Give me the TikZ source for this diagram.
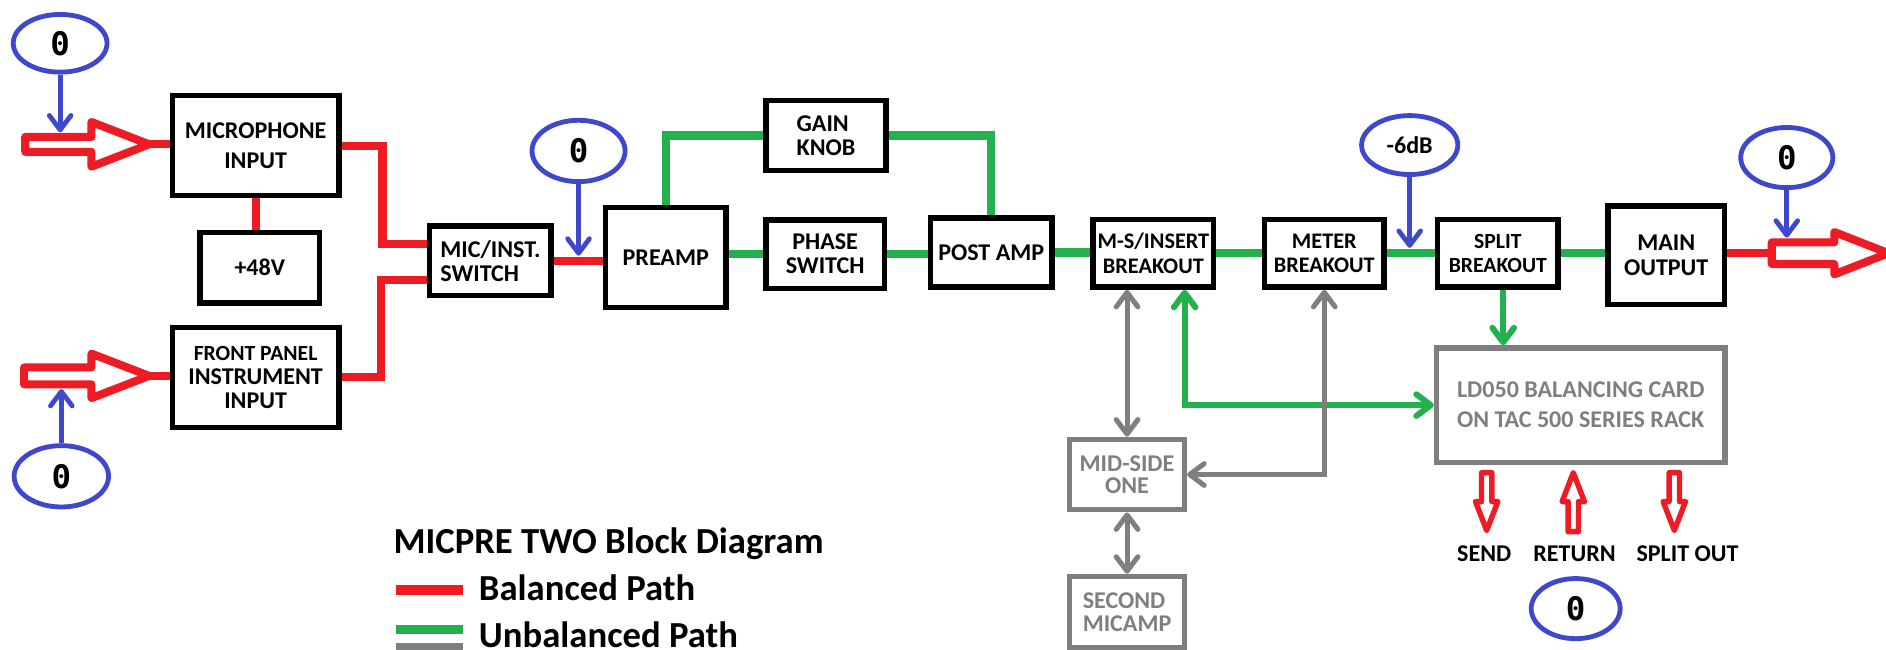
\documentclass[tikz,border=0pt]{standalone}
\usepackage{fontspec}
\setmainfont{Carlito}
\newfontfamily\zerofont{DejaVu Sans Mono}
\usetikzlibrary{arrows.meta,shapes.geometric}

\definecolor{pathred}{HTML}{ED1C24}
\definecolor{pathgreen}{HTML}{22B14C}
\definecolor{levelblue}{HTML}{3F48CC}
\definecolor{auxgray}{HTML}{7F7F7F}

\tikzset{
  block/.style={draw=black, line width=4.5pt, inner sep=0pt, align=center,
    text=black, font=\fontsize{20}{20}\selectfont\bfseries},
  grayblock/.style={block, draw=auxgray, text=auxgray},
  level/.style={ellipse, draw=levelblue, line width=4pt, inner sep=0pt,
    text=black, font=\fontsize{20}{20}\selectfont\bfseries},
  zero/.style={level, font=\zerofont\fontsize{27}{27}\selectfont\bfseries},
  caption/.style={inner sep=0pt, text=black, font=\fontsize{20}{20}\selectfont\bfseries},
  legendtext/.style={inner sep=0pt, anchor=base west, text=black,
    font=\fontsize{30.5}{30}\selectfont\bfseries},
  pbarb/.tip={Straight Barb[length=12pt,width=18pt,round]},
  red path/.style={draw=pathred, line width=6.7pt},
  green path/.style={draw=pathgreen, line width=7pt},
  green link/.style={draw=pathgreen, line width=5pt},
  blue pointer/.style={draw=levelblue, line width=4pt, -pbarb},
  gray link/.style={draw=auxgray, line width=4.2pt, pbarb-pbarb},
  % hollow block arrow: length, shaft half width, head half width, head length
  pics/fat arrow/.style n args={4}{code={
    \draw[draw=pathred, line join=round]
      (0,-#2) -- ({#1-#4},-#2) -- ({#1-#4},-#3) -- (#1,0)
      -- ({#1-#4},#3) -- ({#1-#4},#2) -- (0,#2) -- cycle;
  }},
}

\begin{document}
\begin{tikzpicture}[x=1pt, y=-1pt]
\useasboundingbox (0,0) rectangle (1568,540);
\clip (0,0) rectangle (1568,540);

% ---- signal blocks ----
\node[block, font=\fontsize{20}{25}\selectfont\bfseries,
      minimum width=138.5pt, minimum height=83.5pt] (mic) at (212.5,121) {MICROPHONE\\INPUT};
\node[block, minimum width=99.5pt, minimum height=58.5pt] (p48) at (216,222.5) {+48V};
\node[block, minimum width=138.5pt, minimum height=83pt] (front) at (212.5,313.75)
      {{\fontsize{18}{20}\selectfont FRONT PANEL}\\INSTRUMENT\\INPUT};
\node[block, align=left, minimum width=101pt, minimum height=58pt] (switch) at (407.75,216.75) {MIC/INST.\\SWITCH};
\node[block, minimum width=100.5pt, minimum height=83pt] (preamp) at (553.5,214.25) {PREAMP};
\node[block, align=left, minimum width=100pt, minimum height=58pt] (gain) at (686.75,112.75) {GAIN\\KNOB};
\node[block, minimum width=98.5pt, minimum height=57pt] (phase) at (686,211.25) {PHASE\\SWITCH};
\node[block, minimum width=101pt, minimum height=57.5pt] (post) at (824.1,210) {POST AMP};
\node[block, font=\fontsize{18.5}{20.5}\selectfont\bfseries,
      minimum width=100.3pt, minimum height=56.5pt] (ms) at (958.9,210.5) {M-S/INSERT\\BREAKOUT};
\node[block, font=\fontsize{18.5}{20}\selectfont\bfseries,
      minimum width=99.5pt, minimum height=56.5pt] (meter) at (1101,210.5) {METER\\BREAKOUT};
\node[block, font=\fontsize{18}{20}\selectfont\bfseries,
      minimum width=100pt, minimum height=56.5pt] (split) at (1245.25,210.5) {SPLIT\\BREAKOUT};
\node[block, minimum width=97pt, minimum height=82pt] (main) at (1385.25,212.25) {MAIN\\OUTPUT};
\node[grayblock, align=left, font=\fontsize{20}{25}\selectfont\bfseries,
      minimum width=240pt, minimum height=95pt] (ld) at (1314.25,336.8)
      {LD050 BALANCING CARD\\ON TAC 500 SERIES RACK};
\node[grayblock, font=\fontsize{20}{18}\selectfont\bfseries,
      minimum width=95.5pt, minimum height=58.5pt] (midside) at (937,394.5) {MID-SIDE\\ONE};
\node[grayblock, align=left, font=\fontsize{20}{19}\selectfont\bfseries,
      minimum width=95.5pt, minimum height=59pt] (second) at (937,508.75) {SECOND\\MICAMP};

% ---- level markers ----
\node[zero, minimum width=78pt, minimum height=48pt] (z1) at (50,36) {0};
\node[zero, minimum width=78.5pt, minimum height=51pt] (z2) at (51,396) {0};
\node[zero, minimum width=77.4pt, minimum height=51pt] (z3) at (481,125.5) {0};
\node[level, minimum width=80pt, minimum height=49pt] (z6) at (1172,120.6) {-6dB};
\node[zero, minimum width=76.6pt, minimum height=50pt] (z4) at (1485.5,131) {0};
\node[zero, minimum width=74pt, minimum height=50pt] (z5) at (1310,506) {0};

% ---- jack arrows ----
\pic[line width=6.7pt] at (21,120) {fat arrow={103}{6.2}{18.6}{48}};
\pic[line width=6.7pt] at (20,312.5) {fat arrow={104}{7}{18.5}{48}};
\pic[line width=6.7pt] at (1473,210.5) {fat arrow={97}{9}{17.6}{45}};
\pic[line width=4.5pt, rotate=-90] at (1236,393) {fat arrow={48}{4.3}{9.3}{24}};
\pic[line width=4.5pt, rotate=90] at (1308,442) {fat arrow={49}{4.3}{9.3}{24}};
\pic[line width=4.5pt, rotate=-90] at (1392,393) {fat arrow={48}{4.3}{9.3}{24}};

\coordinate (micJack) at (124,120);
\coordinate (instJack) at (123,312.5);
\coordinate (outJack) at (1473,210.5);
\coordinate (micLevel) at (50,110);
\coordinate (instLevel) at (51,323.5);
\coordinate (switchLevel) at (481,212.5);
\coordinate (splitLevel) at (1172,206);
\coordinate (outLevel) at (1485.5,197.5);

% ---- balanced paths ----
\draw[red path] (micJack) -- (micJack -| mic.west);
\draw[red path] (instJack) -- (instJack -| front.west);
\draw[red path] (mic.south) -- (mic.south |- p48.north);
\draw[red path] (mic.east) -- ++(34,0) |- ([yshift=14pt]switch.west);
\draw[red path] (front.east) -- ++(33,0) |- ([yshift=-16pt]switch.west);
\draw[red path] (switch.east) -- (switch.east -| preamp.west);
\draw[red path] (main.east |- outJack) -- (outJack);

% ---- unbalanced paths ----
\draw[green path] (preamp.north) |- (gain.west);
\draw[green path] (gain.east) -| (post.north);
\draw[green path] (phase.west -| preamp.east) -- (phase.west);
\draw[green path] (phase.east) -- (phase.east -| post.west);
\draw[green path] (post.east) -- (post.east -| ms.west);
\draw[green path] (ms.east) -- (ms.east -| meter.west);
\draw[green path] (meter.east) -- (meter.east -| split.west);
\draw[green path] (split.east) -- (split.east -| main.west);
\draw[green link, pbarb-pbarb] ([xshift=26pt]ms.south) |- (ld.west);
\draw[green link, -pbarb] ([xshift=4.5pt]split.south) -- ([xshift=4.5pt]split.south |- ld.north);

% ---- auxiliary links ----
\draw[gray link] (ms.south -| midside.north) -- (midside.north);
\draw[gray link] (meter.south) |- (midside.east);
\draw[gray link] (midside.south) -- (second.north);

% ---- level pointers ----
\draw[blue pointer] (z1.south) -- (micLevel);
\draw[blue pointer] (z2.north) -- (instLevel);
\draw[blue pointer] (z3.south) -- (switchLevel);
\draw[blue pointer] (z6.south) -- (splitLevel);
\draw[blue pointer] (z4.south) -- (outLevel);

% ---- rack card connections ----
\node[caption] (sendLabel) at (1234,460) {SEND};
\node[caption] (returnLabel) at (1309,460) {RETURN};
\node[caption] (splitLabel) at (1403,460) {SPLIT OUT};

% ---- legend ----
\node[legendtext] (legendTitle) at (327,460) {MICPRE TWO Block Diagram};
\draw[pathred, line width=7.8pt] (329,490.5) -- (385,490.5);
\node[legendtext] (legendBalanced) at (398,499) {Balanced Path};
\draw[pathgreen, line width=7.5pt] (329,523) -- (385,523);
\node[legendtext] (legendUnbalanced) at (398,538) {Unbalanced Path};
\fill[auxgray] (329,534.6) rectangle (385,542);
\end{tikzpicture}
\end{document}
